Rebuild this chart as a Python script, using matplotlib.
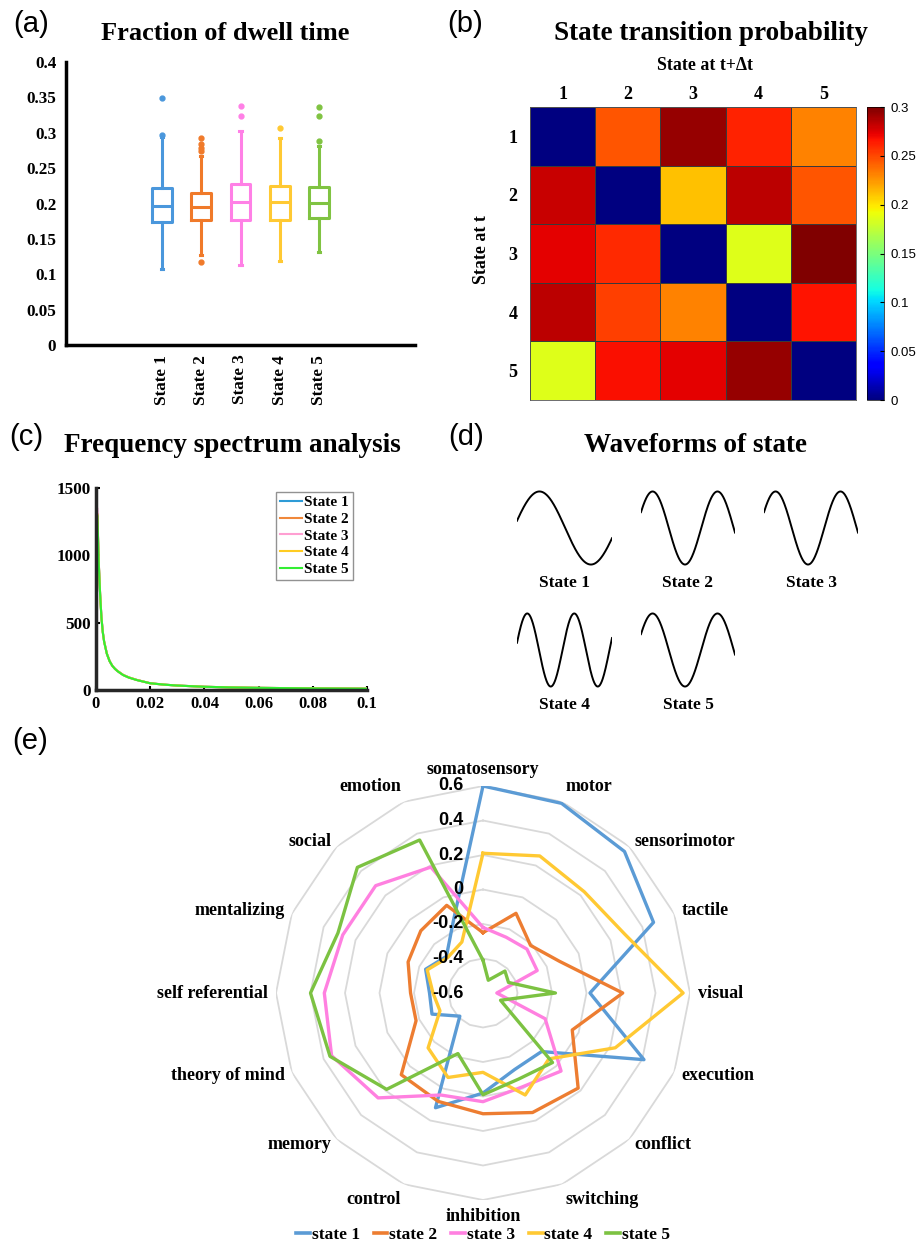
import matplotlib
matplotlib.use("Agg")
import matplotlib.pyplot as plt
from matplotlib.lines import Line2D
import numpy as np

# ---- data ----
states = ["State 1", "State 2", "State 3", "State 4", "State 5"]

# (a) dwell time box statistics
dwell_med = [0.197, 0.195, 0.202, 0.202, 0.201]
dwell_q1 = [0.174, 0.176, 0.176, 0.176, 0.180]
dwell_q3 = [0.222, 0.215, 0.228, 0.225, 0.223]
dwell_lo = [0.108, 0.127, 0.113, 0.119, 0.131]
dwell_hi = [0.294, 0.267, 0.302, 0.292, 0.281]
dwell_out = [[0.349, 0.297],
             [0.293, 0.284, 0.279, 0.274, 0.117],
             [0.338, 0.323],
             [0.307],
             [0.336, 0.323, 0.288]]
dwell_yticks = [0, 0.05, 0.1, 0.15, 0.2, 0.25, 0.3, 0.35, 0.4]
dwell_ylabels = ["0", "0.05", "0.1", "0.15", "0.2", "0.25", "0.3", "0.35", "0.4"]

# (b) transition probability (row = state at t, col = state at t+dt)
trans_row1 = [0.0, 0.245, 0.294, 0.262, 0.232]
trans_row2 = [0.281, 0.0, 0.212, 0.284, 0.245]
trans_row3 = [0.274, 0.260, 0.0, 0.186, 0.299]
trans_row4 = [0.284, 0.252, 0.232, 0.0, 0.267]
trans_row5 = [0.186, 0.268, 0.274, 0.294, 0.0]
cbar_ticks = [0, 0.05, 0.1, 0.15, 0.2, 0.25, 0.3]
cbar_labels = ["0", "0.05", "0.1", "0.15", "0.2", "0.25", "0.3"]

# (c) frequency spectrum
freq = [0.0005, 0.001, 0.0015, 0.002, 0.0025, 0.003, 0.004, 0.005, 0.006, 0.007,
        0.008, 0.01, 0.012, 0.015, 0.02, 0.025, 0.03, 0.04, 0.05, 0.06, 0.07,
        0.08, 0.09, 0.1]
spec_s1 = [1300, 950, 720, 540, 430, 360, 270, 215, 180, 157, 140, 112, 94, 75, 50,
           40, 33, 24, 19, 16, 14, 12, 11, 10]
spec_s2 = [1305, 955, 720, 540, 432, 360, 270, 216, 180, 157, 140, 112, 94, 75, 50,
           40, 33, 24, 19, 16, 14, 12, 11, 10]
spec_s3 = [1345, 960, 725, 545, 432, 362, 271, 216, 181, 158, 140, 112, 94, 75, 50,
           40, 33, 24, 19, 16, 14, 12, 11, 10]
spec_s4 = [1300, 950, 720, 540, 430, 360, 270, 215, 180, 157, 140, 112, 94, 75, 50,
           40, 33, 24, 19, 16, 14, 12, 11, 10]
spec_s5 = [1290, 948, 718, 538, 430, 358, 269, 215, 180, 157, 139, 111, 93, 74, 50,
           40, 33, 24, 19, 16, 14, 12, 11, 10]
freq_ticks = [0, 0.02, 0.04, 0.06, 0.08, 0.1]
freq_labels = ["0", "0.02", "0.04", "0.06", "0.08", "0.1"]

# (d) waveforms: phase range (rad) shown for each state
wave_start = [0.2, 0.45, 0.45, 0.2, 0.45]
wave_end = [6.0, 9.55, 9.55, 12.9, 9.55]

# (e) radar
domains = ["somatosensory", "motor", "sensorimotor", "tactile", "visual", "execution",
           "conflict", "switching", "inhibition", "control", "memory", "theory of mind",
           "self referential", "mentalizing", "social", "emotion"]
radar_s1 = [0.60, 0.59, 0.56, 0.47, 0.02, 0.41, -0.12, -0.12, -0.02, 0.12, -0.41, -0.28,
            -0.29, -0.24, -0.30, -0.15]
radar_s2 = [-0.25, -0.10, -0.21, -0.12, 0.21, -0.04, 0.18, 0.15, 0.10, 0.08, 0.07, -0.18,
            -0.18, -0.13, -0.09, -0.05]
radar_s3 = [-0.22, -0.25, -0.24, -0.26, -0.52, -0.21, 0.04, -0.01, 0.03, 0.04, 0.26, 0.35,
            0.32, 0.28, 0.28, 0.19]
radar_s4 = [0.21, 0.26, 0.23, 0.29, 0.56, 0.23, -0.06, 0.04, -0.14, -0.07, -0.15, -0.33,
            -0.31, -0.25, -0.31, -0.28]
radar_s5 = [-0.41, -0.52, -0.42, -0.44, -0.18, -0.49, -0.03, -0.06, -0.01, -0.22, 0.19,
            0.36, 0.40, 0.31, 0.43, 0.36]
radar_rings = [-0.4, -0.2, 0, 0.2, 0.4, 0.6]
radar_ticks = [0.6, 0.4, 0.2, 0, -0.2, -0.4, -0.6]
radar_labels = ["0.6", "0.4", "0.2", "0", "-0.2", "-0.4", "-0.6"]
radar_names = ["state 1", "state 2", "state 3", "state 4", "state 5"]

box_colors = ["#4a97dc", "#f07a2a", "#ff80e6", "#ffc933", "#80c342"]
spec_colors = ["#2e9bd6", "#f0883a", "#ff9fd2", "#ffcc22", "#33ee33"]
radar_colors = ["#5b9bd5", "#ed7d31", "#ff80e0", "#ffc933", "#7cc242"]

W, H = 917, 1246
SERIF = "Liberation Serif"
SANS = "Liberation Sans"


def rect(l, t, r, b):
    return [l / W, 1 - b / H, (r - l) / W, (b - t) / H]


fig = plt.figure(figsize=(W / 100, H / 100), dpi=100)


def ftext(x, y, s, **kw):
    fig.text(x / W, 1 - y / H, s, **kw)


bold = dict(family=SERIF, fontweight="bold")

# panel letters
for lab, x, y in [("(a)", 31, 24), ("(b)", 465, 24), ("(c)", 26, 437), ("(d)", 466, 437), ("(e)", 30, 741)]:
    ftext(x, y, lab, family=SANS, fontsize=21, ha="center", va="center")

# ---- (a) ----
ax = fig.add_axes(rect(66, 62, 415, 345))
stats = []
for i in range(5):
    stats.append(dict(med=dwell_med[i], q1=dwell_q1[i], q3=dwell_q3[i],
                      whislo=dwell_lo[i], whishi=dwell_hi[i], fliers=dwell_out[i]))
for i in range(5):
    c = box_colors[i]
    ax.bxp([stats[i]], positions=[i + 1], widths=0.5, capwidths=0.06, showfliers=True,
           boxprops=dict(color=c, linewidth=2.2),
           medianprops=dict(color=c, linewidth=2.2),
           whiskerprops=dict(color=c, linewidth=2.2),
           capprops=dict(color=c, linewidth=2.2),
           flierprops=dict(marker="o", markersize=3.5, markerfacecolor=c, markeredgecolor=c))
ax.set_xlim(-1.45, 7.45)
ax.set_ylim(0, 0.4)
ax.set_yticks(dwell_yticks)
ax.set_yticklabels(dwell_ylabels, **bold, fontsize=12.3)
ax.set_xticks([1, 2, 3, 4, 5])
ax.set_xticklabels(states, rotation=90, **bold, fontsize=12.3)
ax.tick_params(length=0, pad=7)
for s in ["top", "right"]:
    ax.spines[s].set_visible(False)
for s in ["left", "bottom"]:
    ax.spines[s].set_linewidth(2.5)
ftext(225, 34, "Fraction of dwell time", **bold, fontsize=19, ha="center", va="center")

# ---- (b) ----
ax = fig.add_axes(rect(530, 107, 856, 400))
trans = np.array([trans_row1, trans_row2, trans_row3, trans_row4, trans_row5])
mesh = ax.pcolormesh(trans, cmap="jet", vmin=0, vmax=0.3, edgecolors="#3a3a3a", linewidth=0.6)
ax.set_xlim(0, 5)
ax.set_ylim(5, 0)
ax.set_xticks(np.arange(5) + 0.5)
ax.set_xticklabels(["1", "2", "3", "4", "5"], **bold, fontsize=13)
ax.set_yticks(np.arange(5) + 0.5)
ax.set_yticklabels(["1", "2", "3", "4", "5"], **bold, fontsize=13)
ax.xaxis.tick_top()
ax.tick_params(axis="x", length=0, pad=3)
ax.tick_params(axis="y", length=0, pad=9)
for s in ax.spines.values():
    s.set_linewidth(0.6)
    s.set_color("#555555")
cax = fig.add_axes(rect(867, 107, 884, 400))
cb = fig.colorbar(mesh, cax=cax, ticks=cbar_ticks)
cb.ax.set_yticklabels(cbar_labels, family=SANS, fontsize=9.5)
cb.ax.tick_params(length=3, direction="in", pad=5)
cb.outline.set_linewidth(0.5)
ftext(711, 33, "State transition probability", **bold, fontsize=19.5, ha="center", va="center")
ftext(705, 65, "State at t+\u0394t", **bold, fontsize=12.8, ha="center", va="center")
ftext(482, 250, "State at t", **bold, fontsize=12.8, ha="center", va="center", rotation=90)

# ---- (c) ----
ax = fig.add_axes(rect(96, 488, 367, 690))
for spec, c, name in zip([spec_s1, spec_s2, spec_s3, spec_s4, spec_s5], spec_colors, states):
    ax.plot(freq, spec, color=c, linewidth=1.5, label=name)
ax.set_xlim(0, 0.1)
ax.set_ylim(0, 1500)
ax.set_xticks(freq_ticks)
ax.set_xticklabels(freq_labels, **bold, fontsize=12)
ax.set_yticks([0, 500, 1000, 1500])
ax.set_yticklabels(["0", "500", "1000", "1500"], **bold, fontsize=12.3)
ax.tick_params(direction="in", length=3, width=1.5, pad=4)
for s in ["top", "right"]:
    ax.spines[s].set_visible(False)
for s in ["left", "bottom"]:
    ax.spines[s].set_linewidth(2.5)
    ax.spines[s].set_color("#262626")
leg = ax.legend(loc="upper right", bbox_to_anchor=(0.975, 1.02), prop=dict(family=SERIF, weight="bold", size=11),
                handlelength=1.45, handletextpad=0.15, labelspacing=0.2, borderpad=0.25, fancybox=False)
leg.get_frame().set_edgecolor("#777777")
ftext(232, 445, "Frequency spectrum analysis", **bold, fontsize=19.5, ha="center", va="center")

# ---- (d) ----
wave_boxes = [(517, 490, 612, 566), (641, 490, 735, 566), (764, 490, 858, 566),
              (517, 612, 612, 688), (641, 612, 735, 688)]
for i, (l, t, r, b) in enumerate(wave_boxes):
    wax = fig.add_axes(rect(l, t, r, b))
    ph = np.linspace(wave_start[i], wave_end[i], 300)
    wax.plot(ph, np.sin(ph), color="black", linewidth=1.4)
    wax.set_xlim(wave_start[i], wave_end[i])
    wax.set_ylim(-1.04, 1.04)
    wax.axis("off")
    ftext((l + r) / 2, b + 17, states[i], **bold, fontsize=12.5, ha="center", va="center")
ftext(695, 445, "Waveforms of state", **bold, fontsize=19.5, ha="center", va="center")

# ---- (e) ----
ax = fig.add_axes(rect(276, 786, 690, 1200), projection="polar")
ax.set_theta_zero_location("N")
ax.set_theta_direction(-1)
ax.set_ylim(-0.6, 0.6)
ax.grid(False)
ax.spines["polar"].set_visible(False)
ax.set_xticks([])
ax.set_yticks([])
ang = np.arange(len(domains)) * 2 * np.pi / len(domains)
ang_c = np.append(ang, ang[0])
for v in radar_rings:
    ax.plot(ang_c, [v] * len(ang_c), color="#d9d9d9", linewidth=1.3, zorder=1)
for vals, c in zip([radar_s1, radar_s2, radar_s3, radar_s4, radar_s5], radar_colors):
    ax.plot(ang_c, vals + vals[:1], color=c, linewidth=2.4, zorder=3)
for v, lab in zip(radar_ticks, radar_labels):
    ax.annotate(lab, xy=(0, v), xytext=(-14, 0), textcoords="offset points", ha="right",
                va="center", family=SANS, fontweight="bold", fontsize=13, zorder=4)
for a, name in zip(ang, domains):
    s, c = np.sin(a), np.cos(a)
    ha = "left" if s > 0.2 else ("right" if s < -0.2 else "center")
    va = "bottom" if c > 0.9 else ("top" if c < -0.9 else "center")
    ax.text(a, 0.645, name, ha=ha, va=va, **bold, fontsize=13)
handles = [Line2D([], [], color=c, linewidth=2.6) for c in radar_colors]
fig.legend(handles, radar_names, loc="center", bbox_to_anchor=(483 / W, 1 - 1235 / H), ncol=5,
           frameon=False, prop=dict(family=SERIF, weight="bold", size=12.5),
           handlelength=0.8, handletextpad=0.1, columnspacing=0.8)

fig.savefig("out.png", dpi=100)
